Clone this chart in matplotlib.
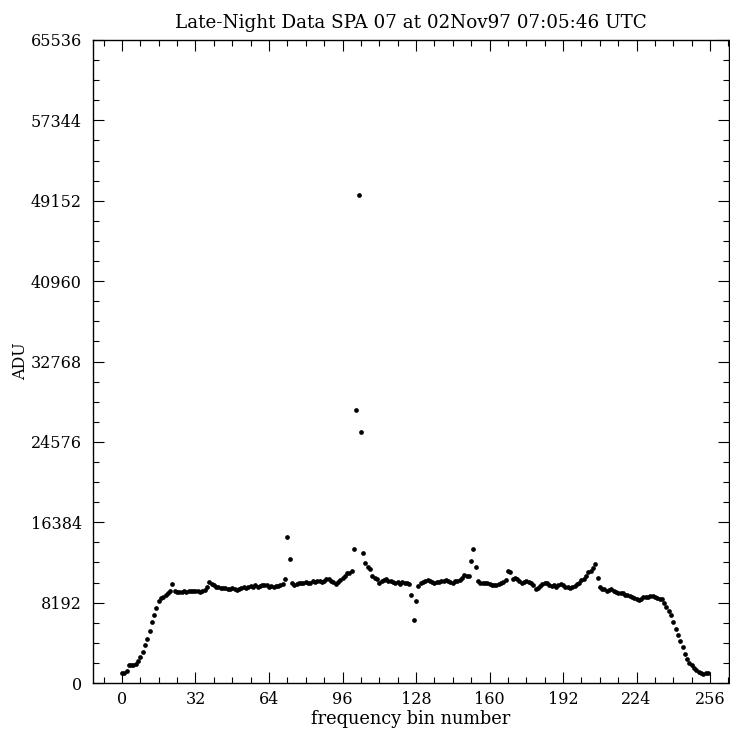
import matplotlib
matplotlib.use("Agg")
import matplotlib.pyplot as plt
from matplotlib.ticker import MultipleLocator
import numpy as np

title = "Late-Night Data SPA 07 at 02Nov97 07:05:46 UTC"
xlabel = "frequency bin number"
ylabel = "ADU"
xticks = [0, 32, 64, 96, 128, 160, 192, 224, 256]
yticks = [0, 8192, 16384, 24576, 32768, 40960, 49152, 57344, 65536]

bins = list(range(256))
adu = [
    988, 1055, 1256, 1800, 1868, 1800, 1935, 2276, 2615, 3159,
    3838, 4518, 5265, 6182, 6962, 7643, 8390, 8627, 8797, 8933,
    9137, 9375, 10120, 9341, 9270, 9230, 9300, 9340, 9270, 9340,
    9400, 9340, 9410, 9340, 9300, 9380, 9477, 9816, 10300, 10088,
    9952, 9816, 9748, 9680, 9646, 9680, 9612, 9612, 9680, 9612,
    9477, 9612, 9680, 9748, 9680, 9816, 9884, 9816, 9952, 9816,
    9884, 9952, 10020, 9952, 9816, 9884, 9748, 9884, 9884, 10020,
    10088, 10620, 14900, 12600, 10156, 10020, 10088, 10156, 10224, 10156,
    10292, 10224, 10156, 10360, 10292, 10400, 10428, 10292, 10428, 10564,
    10632, 10428, 10292, 10088, 10292, 10496, 10700, 10904, 11243, 11175,
    11379, 13622, 27800, 49700, 25600, 13300, 12193, 11854, 11650, 10904,
    10700, 10564, 10224, 10360, 10496, 10564, 10428, 10360, 10292, 10224,
    10292, 10088, 10292, 10224, 10224, 10088, 8967, 6420, 8356, 9884,
    10156, 10292, 10428, 10496, 10360, 10292, 10156, 10292, 10292, 10428,
    10428, 10496, 10360, 10292, 10224, 10360, 10428, 10496, 10700, 11039,
    10904, 10900, 12465, 13690, 11854, 10360, 10224, 10224, 10156, 10156,
    10088, 10020, 9952, 9952, 10088, 10156, 10292, 10496, 11447, 11311,
    10632, 10700, 10564, 10360, 10224, 10292, 10360, 10292, 10156, 10020,
    9544, 9680, 9884, 10088, 10224, 10156, 9952, 9884, 10020, 9816,
    9952, 10088, 10020, 9816, 9748, 9680, 9748, 9884, 10088, 10224,
    10496, 10632, 10904, 11311, 11379, 11684, 12091, 10666, 9816, 9612,
    9544, 9409, 9477, 9544, 9409, 9307, 9205, 9137, 9137, 9001,
    8933, 8865, 8797, 8661, 8526, 8458, 8594, 8729, 8797, 8797,
    8865, 8865, 8729, 8661, 8594, 8526, 8118, 7711, 7371, 6962,
    6249, 5503, 4858, 4246, 3634, 2955, 2446, 2072, 1800, 1528,
    1325, 1121, 984, 917, 984, 1052,
]

FONT = "DejaVu Serif"
plt.rcParams["font.family"] = FONT

fig = plt.figure(figsize=(7.3, 7.3), dpi=100)
ax = fig.add_axes([93 / 730, (730 - 683) / 730, (728.5 - 93) / 730, 643 / 730])

ax.plot(bins, adu, linestyle="none", marker="o", markersize=3.4,
        color="black", markeredgewidth=0)

ax.set_xlim(-12.6, 264.0)
ax.set_ylim(0, 65536)
ax.set_xticks(xticks)
ax.set_yticks(yticks)
ax.xaxis.set_minor_locator(MultipleLocator(8))
ax.yaxis.set_minor_locator(MultipleLocator(2048))

ax.tick_params(which="both", direction="in", top=True, right=True,
               width=0.8, color="black")
ax.tick_params(which="major", length=8)
ax.tick_params(which="minor", length=4.3)
ax.tick_params(axis="x", which="major", pad=6, labelsize=11.5)
ax.tick_params(axis="y", which="major", pad=8, labelsize=11.5)

for s in ax.spines.values():
    s.set_linewidth(1.0)
    s.set_color("black")

ax.set_title(title, fontsize=13.2, pad=9)
ax.set_xlabel(xlabel, fontsize=12.8, labelpad=1)
ax.set_ylabel(ylabel, fontsize=11.5, labelpad=1)

fig.savefig("out.png", dpi=100)
